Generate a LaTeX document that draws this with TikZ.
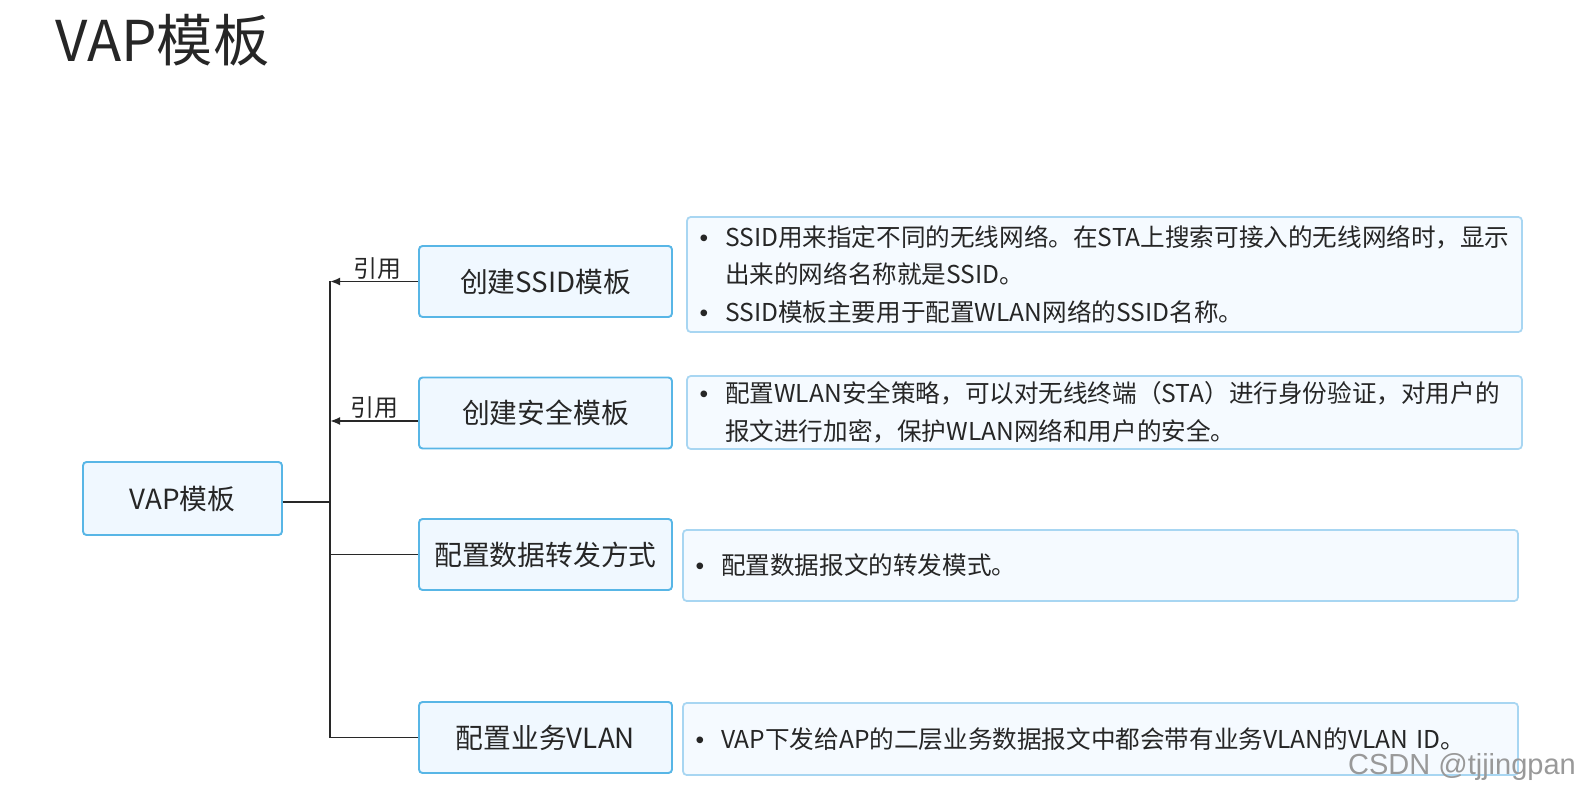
\documentclass[tikz,border=0pt]{standalone}
\usepackage{fontspec}
\setmainfont{Noto Sans CJK SC}
\newfontfamily\wmfont{Liberation Sans}
\usetikzlibrary{arrows.meta}
\definecolor{boxline}{RGB}{88,182,230}
\definecolor{boxfill}{RGB}{240,248,255}
\definecolor{noteline}{RGB}{168,214,242}
\definecolor{notefill}{RGB}{245,250,255}
\definecolor{linkgray}{RGB}{40,40,40}
\newcommand{\bul}{\makebox[0.51cm][l]{\wmfont •}}
\newcommand{\ind}{\hspace*{0.51cm}}
\begin{document}
\begin{tikzpicture}[x=0.02cm, y=-0.02cm,
        tmpl/.style={draw=boxline, fill=boxfill, line width=1.1pt,
                     rounded corners=2pt, text=black!85,
                     font=\fontsize{15.8}{19}\selectfont,
                     minimum width=#1, minimum height=1.42cm},
        tmpl/.default=5.06cm,
        note/.style={draw=noteline, fill=notefill, line width=1pt,
                     rounded corners=2pt, text=black!85, align=left,
                     font=\fontsize{14}{21.3}\selectfont,
                     text width=16.2cm, inner xsep=0.25cm,
                     minimum height=#1},
        note/.default=1.42cm,
        link/.style={draw=linkgray, line width=1.1pt},
        ref/.style={font=\fontsize{13.6}{16}\selectfont, text=black!85},
    ]
        \useasboundingbox[fill=white] (0,0) rectangle (1579,793);

        \node[font=\fontsize{32}{38}\selectfont, text=black!85] (title)
            at (162.5,40) {VAP模板};

        % left side
        \node[tmpl=3.98cm, minimum height=1.46cm] (vap) at (182.5,498.5) {VAP模板};
        \coordinate (trunk) at (330,0);

        \node[tmpl] (ssid) at (545.5,281.5) {创建SSID模板};
        \node[tmpl] (sec)  at (545.5,413)   {创建安全模板};
        \node[tmpl] (fwd)  at (545.5,554.5) {配置数据转发方式};
        \node[tmpl] (vlan) at (545.5,737.5) {配置业务VLAN};

        \draw[link] (ssid.west -| trunk) -- (vlan.west -| trunk);
        \draw[link] ([yshift=-0.07cm]vap.east) -- ([yshift=-0.07cm]vap.east -| trunk);
        \draw[link, -{Latex[length=2mm, width=1.6mm]}]
            (ssid.west) -- (ssid.west -| trunk)
            node[ref, midway, above=-2.5pt, xshift=2pt] (ref1) {引用};
        \draw[link, -{Latex[length=2mm, width=1.6mm]}]
            ([yshift=-0.16cm]sec.west) -- ([yshift=-0.16cm]sec.west -| trunk)
            node[ref, midway, above=-2.5pt] (ref2) {引用};
        \draw[link] (fwd.west) -- (fwd.west -| trunk);
        \draw[link] (vlan.west) -- (vlan.west -| trunk);

        % right side
        \node[note=2.3cm] (note1) at (1104.5,274.5)
            {\bul SSID用来指定不同的无线网络。在STA上搜索可接入的无线网络时，显示\\
             \ind 出来的网络名称就是SSID。\\
             \bul SSID模板主要用于配置WLAN网络的SSID名称。};
        \node[note] (note2) at (1104.5,412.5)
            {\bul 配置WLAN安全策略，可以对无线终端（STA）进行身份验证，对用户的\\
             \ind 报文进行加密，保护WLAN网络和用户的安全。};
        \node[note] (note3) at (1100.5,565.5)
            {\bul 配置数据报文的转发模式。};
        \node[note=1.44cm] (note4) at (1100.5,739)
            {\bul VAP下发给AP的二层业务数据报文中都会带有业务VLAN的VLAN ID。};

        \node[font=\wmfont\fontsize{16.5}{19}\selectfont, text=black!40] (mark)
            at (1462,767) {CSDN @tjjingpan};
    \end{tikzpicture}
\end{document}
